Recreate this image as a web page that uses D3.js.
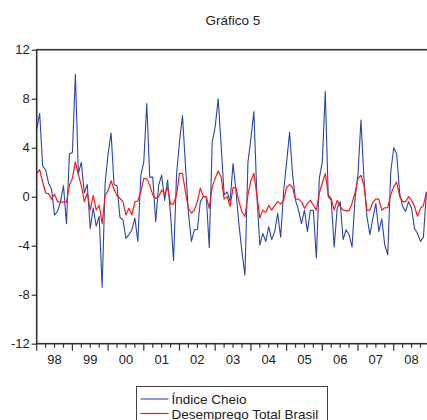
<!DOCTYPE html>
<html>
<head>
<meta charset="utf-8">
<script src="https://cdn.jsdelivr.net/npm/d3@7"></script>
<style>
  body { margin: 0; background: #fff; }
  svg { display: block; font-family: "Liberation Sans", Arial, sans-serif; }
</style>
</head>
<body>
<svg id="chart" width="427" height="420"></svg>
<script>
// monthly series, Jan 1998 .. Dec 2008
var years = ['98', '99', '00', '01', '02', '03', '04', '05', '06', '07', '08'];
var yTicks = [12, 8, 4, 0, -4, -8, -12];

var indiceCheio = [
    5.5, 6.8, 2.5, 2.2, 1.1, 0.6, -1.5, -1.2, -0.4, 0.9, -2.2, 3.5,
    3.6, 10.0, 1.9, 2.8, 0.3, 1.0, -2.6, -0.9, -2.4, -1.6, -7.4, 1.1,
    3.5, 5.2, 1.0, 0.9, -1.7, -1.9, -3.4, -3.1, -2.7, -1.75, -3.65, 1.75,
    2.85, 7.6, 1.6, 1.6, -2.05, 0.95, 1.75, -0.3, 1.35, -1.5, -5.2, 1.75,
    4.5, 6.6, 2.6, -1.35, -3.65, -2.7, -2.7, -0.4, 0, 0, -4.15, 4.5,
    5.7, 8.0, 4.2, 0.15, 0.4, -0.4, 2.7, 0.4, -2.3, -4.5, -6.4, 2.8,
    4.75, 6.95, 0.15, -3.95, -3.0, -3.65, -2.45, -3.5, -2.85, -1.35, -3.3, 0.4,
    2.8, 5.25, 1.85, -0.3, -1.1, -2.2, -1.1, -2.85, -1.1, -1.1, -5.0, 1.5,
    2.85, 8.6, 0, -0.3, -4.1, -0.95, -0.4, -3.5, -2.7, -3.1, -4.1, -0.15,
    1.85, 6.25, 1.5, -1.6, -3.1, -1.75, -0.55, -2.85, -1.8, -3.95, -4.75, 2.0,
    4.0, 3.5, 0.3, -0.8, -1.2, -0.4, -0.95, -2.6, -3.0, -3.65, -3.3, 0.4
];

var desemprego = [
    1.9, 2.2, 1.2, 0.3, 0.25, -0.2, 0.2, -0.4, -0.45, -0.45, -0.45, 0.95,
    1.5, 2.85, 1.8, 0.9, -0.4, 0.3, -1.1, 0.1, -1.1, -0.7, -2.2, 0.1,
    0.5, 1.3, 0.6, 0.1, -0.15, -0.4, -1.5, -0.95, -1.5, -0.4, -0.35, 0.4,
    1.5, 1.45, 0.95, 0.15, -0.15, 0, 0.55, 0.2, 0.75, -0.6, -0.6, 0.15,
    1.9, 1.9, 0.4, -0.95, -1.35, -1.1, -0.4, 0.7, 0, 0, -0.95, 0.8,
    1.5, 2.1, 1.6, -0.2, 0, -0.8, 0.75, 0.7, -0.4, -1.25, -1.6, 0.15,
    1.3, 1.9, 0.15, -1.75, -1.1, -1.3, -0.7, -1.1, -0.7, -0.4, -0.6, -0.3,
    0.75, 1.0, 0.75, -0.2, -0.2, -0.4, -0.95, -0.55, -0.3, -0.7, -1.1, 0.3,
    1.1, 1.9, 0.15, -0.15, -1.1, -0.3, -0.8, -1.1, -1.15, -1.15, -0.55, 0.3,
    1.5, 1.75, 0.95, -1.1, -1.1, -0.45, -0.2, -0.2, -1.1, -0.9, -0.9, 0.15,
    0.8, 1.2, 0, -0.4, -0.4, 0, -0.3, -0.8, -1.6, -0.95, -0.7, 0.4
];

var series = [
    {name: 'Índice Cheio', values: indiceCheio, color: '#2a47a6', width: 1.1},
    {name: 'Desemprego Total Brasil', values: desemprego, color: '#f21d1d', width: 1.2}
];

var frame = {left: 36.7, top: 49.7, bottom: 343.7};
var nMonths = years.length * 12;

var svg = d3.select('#chart');

var x = d3.scaleLinear()
    .domain([0, nMonths])
    .range([frame.left, frame.left + nMonths * 2.975]);

var y = d3.scaleLinear()
    .domain([-12, 12])
    .range([frame.bottom, frame.top]);

// title
svg.append('text')
    .attr('x', 233)
    .attr('y', 25)
    .attr('text-anchor', 'middle')
    .style('font-size', '13.5px')
    .style('fill', '#222')
    .text('Gráfico 5');

// series
var line = d3.line()
    .x(function(d, i) { return x(i); })
    .y(function(d) { return y(d); });

series.forEach(function(s) {
    svg.append('path')
        .datum(s.values)
        .attr('d', line)
        .attr('fill', 'none')
        .attr('stroke', s.color)
        .attr('stroke-width', s.width)
        .attr('stroke-linejoin', 'round');
});

// frame
svg.append('rect')
    .attr('x', x(0))
    .attr('y', y(12))
    .attr('width', x(nMonths) - x(0))
    .attr('height', y(-12) - y(12))
    .attr('fill', 'none')
    .attr('stroke', '#333')
    .attr('stroke-width', 1.6);

// left axis (plain hyphen for negatives, as in the original)
var yAxis = d3.axisLeft(y)
    .tickValues(yTicks)
    .tickSize(5)
    .tickFormat(function(d) { return String(d); });

var gy = svg.append('g')
    .attr('transform', 'translate(' + x(0) + ',0)')
    .call(yAxis);
gy.select('.domain').remove();
gy.selectAll('line').attr('stroke', '#333').attr('stroke-width', 1.2);
gy.selectAll('text')
    .attr('x', -7)
    .style('font-size', '13px')
    .style('font-family', '"Liberation Sans", Arial, sans-serif')
    .style('fill', '#222');

// bottom axis: year ticks + quarterly minor ticks
var quarters = d3.range(0, nMonths + 1, 3);
var gx = svg.append('g')
    .attr('transform', 'translate(0,' + y(-12) + ')');

gx.selectAll('line.tick')
    .data(quarters)
    .enter().append('line')
    .attr('class', 'tick')
    .attr('x1', function(d) { return x(d); })
    .attr('x2', function(d) { return x(d); })
    .attr('y1', 0)
    .attr('y2', function(d) { return d % 12 === 0 ? 7 : 4; })
    .attr('stroke', '#333')
    .attr('stroke-width', 1.2);

gx.selectAll('text.year')
    .data(years)
    .enter().append('text')
    .attr('class', 'year')
    .attr('x', function(d, i) { return x(i * 12 + 6); })
    .attr('y', 20)
    .attr('text-anchor', 'middle')
    .style('font-size', '13px')
    .style('fill', '#222')
    .text(function(d) { return d; });

// legend
var legend = svg.append('g').attr('transform', 'translate(136.5,386.5)');
legend.append('rect')
    .attr('width', 191)
    .attr('height', 45)
    .attr('fill', '#fff')
    .attr('stroke', '#444')
    .attr('stroke-width', 1);

series.forEach(function(s, i) {
    var row = legend.append('g').attr('transform', 'translate(0,' + (12.5 + i * 14.5) + ')');
    row.append('line')
        .attr('x1', 4).attr('x2', 32)
        .attr('stroke', s.color)
        .attr('stroke-width', s.width);
    row.append('text')
        .attr('x', 35)
        .attr('y', 5)
        .style('font-size', '13.5px')
        .style('fill', '#222')
        .text(s.name);
});
</script>
</body>
</html>
